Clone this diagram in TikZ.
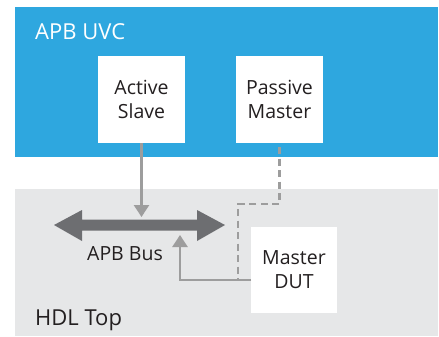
\documentclass[tikz,border=0pt]{standalone}
\usepackage{fontspec}
\setmainfont{Open Sans}
\usetikzlibrary{arrows.meta}
\definecolor{uvcblue}{HTML}{2EA7DF}
\definecolor{hdlgray}{HTML}{E6E7E8}
\definecolor{busgray}{HTML}{6D6E71}
\definecolor{linegray}{HTML}{9D9D9D}
\definecolor{txt}{HTML}{231F20}
\begin{document}
\begin{tikzpicture}[x=1pt,y=-1pt,
  area/.style={inner sep=0pt, outer sep=0pt, anchor=north west},
  box/.style={fill=white, minimum width=87pt, minimum height=87pt, inner sep=0pt, outer sep=0pt,
    align=center, text=txt, font=\fontsize{19.5}{24}\selectfont},
  lbl/.style={inner sep=0pt, anchor=base west, font=\fontsize{22}{24}\selectfont},
  conn/.style={draw=linegray, line width=2.5pt, -{Triangle[length=12pt,width=15pt]}},
  dconn/.style={draw=linegray, line width=2.5pt, dash pattern=on 7pt off 4.5pt, dash phase=-4pt}]
\useasboundingbox (0,0) rectangle (439,337);
% areas
\node[area, fill=uvcblue, minimum width=423pt, minimum height=150pt] (uvc) at (15,7) {};
\node[area, fill=hdlgray, minimum width=423pt, minimum height=147pt] (hdl) at (15,189) {};
\node[lbl, text=white] (uvclbl) at (35,39.5) {APB UVC};
\node[lbl, text=txt] (hdllbl) at (35,325) {HDL Top};
% boxes
\node[box] (as) at (141.5,99.5) {Active\\Slave};
\node[box] (pm) at (279.5,99.5) {Passive\\Master};
\node[box, minimum width=86pt, minimum height=86pt] (dut) at (294,270) {Master\\DUT};
% bus
\fill[busgray] (54,225) -- (82,210) -- (82,219.5) -- (197,219.5) -- (197,210) -- (225,225)
  -- (197,241) -- (197,230.5) -- (82,230.5) -- (82,241) -- cycle;
\coordinate (bustop) at (142,219.5);
\coordinate (busbot) at (180,230.5);
\node[inner sep=0pt, anchor=base, text=txt, font=\fontsize{19.5}{24}\selectfont] (buslbl) at (125,260) {APB Bus};
% connectors
\draw[conn, shorten >=2.5pt] (as.south) -- (as.south |- bustop);
\coordinate (dutout) at ([yshift=-10pt]dut.west);
\draw[conn, shorten >=4.5pt] (dutout) -| (busbot);
\coordinate (pmbend) at (pm.south |- 0,204);
\coordinate (dashbend) at (238,204);
\draw[dconn] (pm.south) -- (pmbend) -- (dashbend) -- (dashbend |- dutout);
\end{tikzpicture}
\end{document}
